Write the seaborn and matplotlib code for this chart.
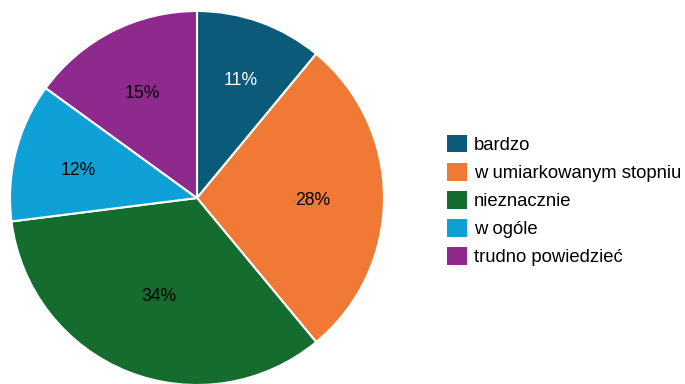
import numpy as np
import matplotlib
matplotlib.use("Agg")
import matplotlib.pyplot as plt
import seaborn as sns
from matplotlib.patches import Patch

categories = ["bardzo", "w umiarkowanym stopniu", "nieznacznie", "w ogóle", "trudno powiedzieć"]
values = [11, 28, 34, 12, 15]
colors = ["#0b5a7a", "#f07935", "#146c2f", "#10a0d8", "#8e2a8e"]
label_colors = ["white", "black", "black", "black", "black"]
# radial placement of each percentage label (fraction of the radius)
label_radius = [0.684, 0.618, 0.549, 0.653, 0.647]

sns.set_theme(style="white")
plt.rcParams["font.family"] = ["Liberation Sans", "DejaVu Sans"]
plt.rcParams["text.color"] = "black"
palette = sns.color_palette(colors)

W, H = 685, 384
fig = plt.figure(figsize=(W / 100, H / 100), dpi=100)
cx, cy, r = 197, 198, 187
ax = fig.add_axes([(cx - r) / W, (H - cy - r) / H, 2 * r / W, 2 * r / H])

wedges, texts, autotexts = ax.pie(
    values,
    colors=palette,
    startangle=90,
    counterclock=False,
    autopct=lambda p: f"{p:.0f}%",
    wedgeprops=dict(edgecolor="white", linewidth=1.5),
    textprops=dict(fontsize=12.7),
)
for w, t, c, d in zip(wedges, autotexts, label_colors, label_radius):
    t.set_color(c)
    mid = np.deg2rad((w.theta1 + w.theta2) / 2)
    t.set_position((d * np.cos(mid), d * np.sin(mid) - 0.015))
    w.set_clip_on(False)
ax.set_xlim(-1, 1)
ax.set_ylim(-1, 1)
ax.set_aspect("equal")

handles = [Patch(facecolor=c, edgecolor="none") for c in palette]
fig.legend(
    handles,
    categories,
    loc="upper left",
    bbox_to_anchor=(447 / W, 1 - 135 / H),
    frameon=False,
    fontsize=13.3,
    labelcolor="black",
    handlelength=1.08,
    handleheight=1.08,
    handletextpad=0.38,
    labelspacing=0.49,
    borderpad=0,
    borderaxespad=0,
)

fig.savefig("out.png", dpi=100)
